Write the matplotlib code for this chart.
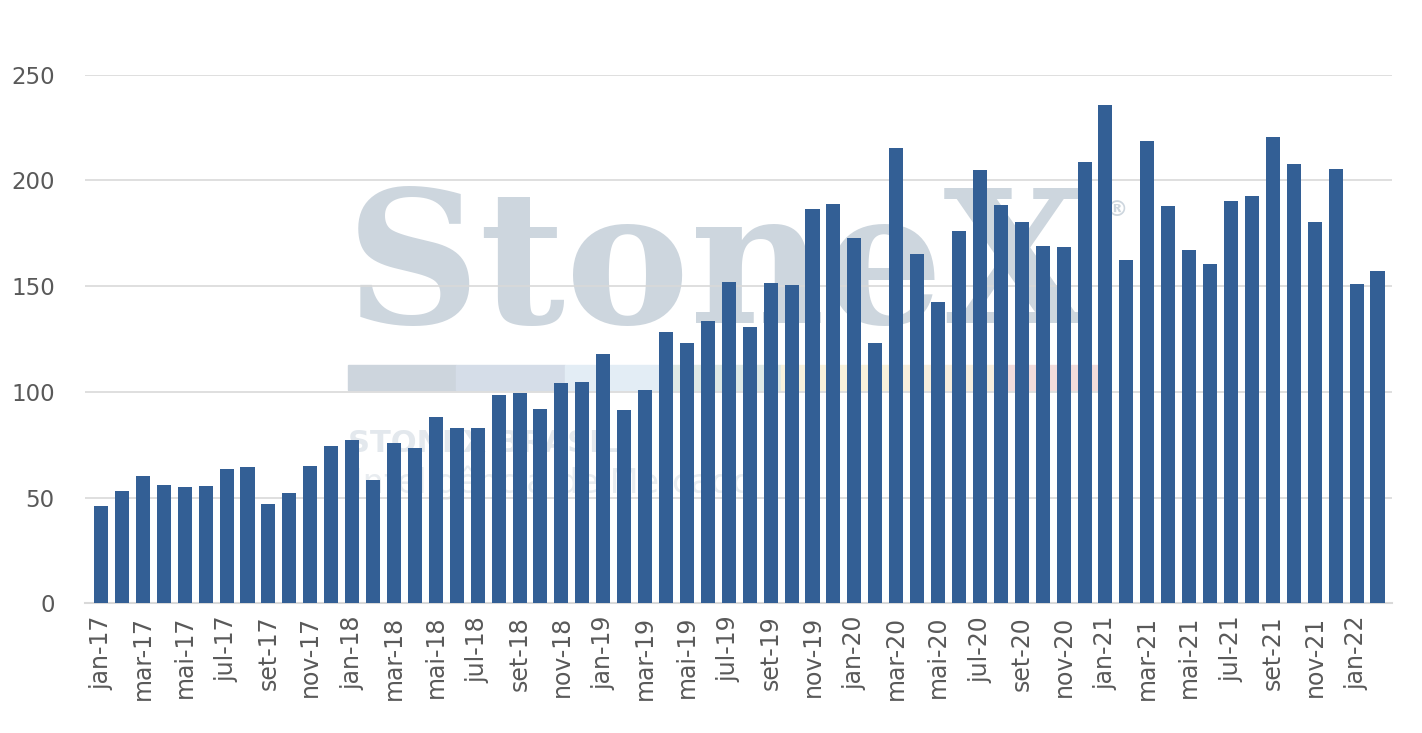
import matplotlib.pyplot as plt
import matplotlib.patches as mpatches

months = ["jan", "fev", "mar", "abr", "mai", "jun", "jul", "ago", "set", "out", "nov", "dez"]
labels = [f"{m}-{y}" for y in range(17, 23) for m in months][:62]

values = [
    46, 53, 60, 56, 55, 55.5, 63.5, 64.5, 47, 52, 65, 74.5,
    77, 58.5, 76, 73.5, 88, 83, 83, 98.5, 99.5, 92, 104, 104.5,
    118, 91.5, 101, 128.5, 123, 133.5, 152, 130.5, 151.5, 150.5, 186.5, 189,
    173, 123, 215.5, 165, 142.5, 176, 205, 188.5, 180.5, 169, 168.5, 208.5,
    235.5, 162.5, 218.5, 188, 167, 160.5, 190.5, 192.5, 220.5, 208, 180.5, 205.5,
    151, 157,
]

fig = plt.figure(figsize=(14.22, 7.33), dpi=100)
ax = fig.add_axes([0.06, 0.177, 0.919, 0.721])
ax.set_zorder(2)
ax.patch.set_alpha(0)

# watermark (behind the axes)
fig.text(0.243, 0.559, "StoneX", family="DejaVu Serif", weight="bold", fontsize=134,
         color="#cdd6de", va="baseline", zorder=0)
fig.text(0.778, 0.705, "®", fontsize=16, weight="bold", color="#cdd6de", zorder=0)
strip = ["#cdd5dd", "#d5dde8", "#e3edf5", "#dfe9e6", "#f8f1dc", "#f7eedd", "#f2dcdc"]
for i, c in enumerate(strip):
    fig.patches.append(mpatches.Rectangle((0.245 + i * 0.076, 0.468), 0.076, 0.034,
                                          transform=fig.transFigure, color=c, zorder=0))
fig.text(0.245, 0.383, "STONEX BRASIL", fontsize=22, weight="bold", color="#e3e8ed", zorder=0)
fig.text(0.248, 0.328, "Inteligência de Mercado", fontsize=24, color="#e8ecf0", zorder=0)

x = range(len(values))
ax.bar(x, values, width=0.67, color="#335f95", zorder=3)

ax.set_ylim(0, 250)
ax.set_xlim(-0.75, len(values) - 0.3)
ax.set_yticks(range(0, 251, 50))
ax.grid(axis="y", color="#d9d9d9", linewidth=1.2, zorder=0)
for s in ["top", "right", "left"]:
    ax.spines[s].set_visible(False)
ax.spines["bottom"].set_color("#d9d9d9")
ax.spines["bottom"].set_linewidth(1.5)

ax.set_xticks(list(x)[::2])
ax.set_xticklabels(labels[::2], rotation=90, fontsize=17, color="#595959")
ax.tick_params(axis="y", labelsize=16.5, labelcolor="#595959", length=0, pad=22)
ax.tick_params(axis="x", length=0, pad=9)

fig.savefig("out.png", dpi=100)
